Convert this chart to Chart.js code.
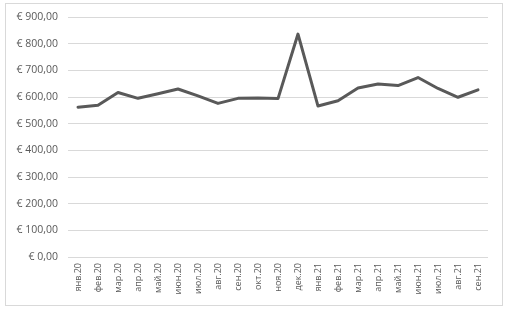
<!DOCTYPE html>
<html><head><meta charset="utf-8">
<script src="https://cdn.jsdelivr.net/npm/chart.js@4/dist/chart.umd.min.js"></script>
<style>
html,body{margin:0;padding:0;background:#fff;}
#wrap{position:relative;width:508px;height:312px;}
#frame{position:absolute;left:5px;top:3px;width:498px;height:303px;border:1px solid #d9d9d9;box-sizing:border-box;pointer-events:none;}
canvas{position:absolute;left:0;top:0;}
</style></head><body>
<div id="wrap"><canvas id="c" width="508" height="312"></canvas><div id="frame"></div></div>
<script>
const categories = ["янв.20","фев.20","мар.20","апр.20","май.20","июн.20","июл.20","авг.20","сен.20","окт.20","ноя.20","дек.20","янв.21","фев.21","мар.21","апр.21","май.21","июн.21","июл.21","авг.21","сен.21"];
const values = [562,569,617,595,612,630,604,576,595,596,594,836,566,586,634,649,643,673,632,599,627];
const yTicks = [0,100,200,300,400,500,600,700,800,900];

function fmt(v){ return "€ " + v.toFixed(2).replace(".", ","); }

new Chart(document.getElementById("c"), {
  type: "line",
  data: { labels: categories, datasets: [{ data: values, borderColor: "#595959", borderWidth: 3, pointRadius: 0, tension: 0, fill: false, borderJoinStyle: "round", borderCapStyle: "round" }] },
  options: {
    responsive: false, animation: false,
    layout: { padding: { left: 0, right: 20, top: 17, bottom: 0 } },
    plugins: { legend: { display: false }, tooltip: { enabled: false } },
    scales: {
      x: {
        offset: true,
        grid: { display: false, drawTicks: false },
        border: { display: false },
        ticks: { color: "#595959", font: { family: "Open Sans", size: 9 }, minRotation: 90, maxRotation: 90, padding: 6, autoSkip: false },
        afterFit: s => { s.height = 55; }
      },
      y: {
        min: 0, max: 900,
        afterBuildTicks: s => { s.ticks = yTicks.map(v => ({ value: v })); },
        grid: { color: "#d9d9d9", lineWidth: 1, drawTicks: false },
        border: { display: false },
        ticks: { color: "#595959", font: { family: "Open Sans", size: 10.5 }, padding: 10, callback: v => fmt(v) },
        afterFit: s => { s.width = 68; }
      }
    }
  }
});
</script>
</body></html>
